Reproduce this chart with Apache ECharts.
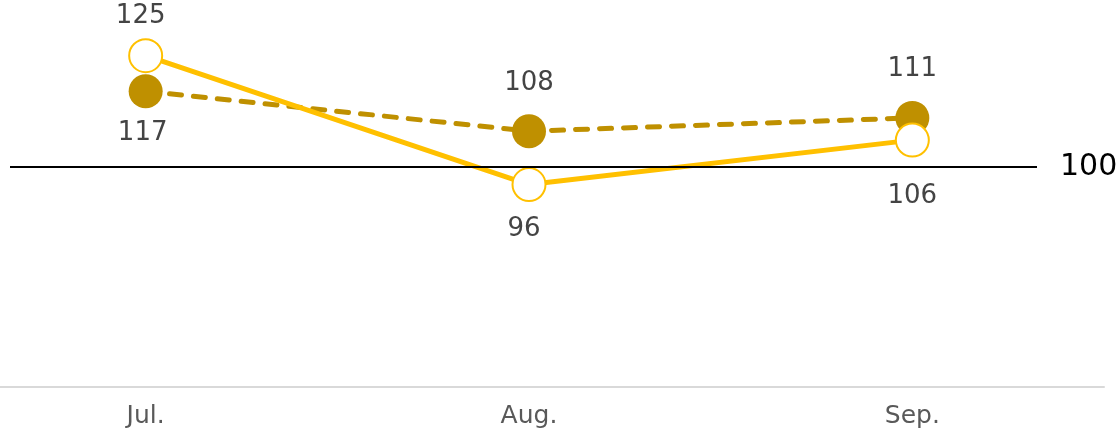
<!DOCTYPE html>
<html>
<head>
<meta charset="utf-8">
<script src="https://cdn.jsdelivr.net/npm/echarts@6/dist/echarts.min.js"></script>
<style>
html,body{margin:0;padding:0;background:#fff;}
#chart{width:1120px;height:435px;}
</style>
</head>
<body>
<div id="chart"></div>
<script>
// ---- data ----
const categories = ['Jul.', 'Aug.', 'Sep.'];
const solidValues = [125, 96, 106];
const dashedValues = [117, 108, 111];
const referenceValue = 100;

// ---- label placement (style, not data) ----
const solidLabelPos = ['top', 'bottom', 'bottom'];
const solidLabelDist = [9, 14, 26];
const solidLabelShift = [-5, -5, 0];
const dashedLabelPos = ['bottom', 'top', 'top'];
const dashedLabelDist = [12, 18, 19];
const dashedLabelShift = [-3, 0, 0];

const FONT = 'DejaVu Sans, Verdana, sans-serif';
const GOLD = '#FFC000';
const DARK_GOLD = '#BF9000';

function buildItems(values, pos, dist, shift) {
  return values.map((v, i) => ({
    value: v,
    label: { position: pos[i], distance: dist[i], offset: [shift[i], 0] }
  }));
}

const chart = echarts.init(document.getElementById('chart'), null, { renderer: 'canvas' });
chart.setOption({
  animation: false,
  grid: { left: -46, right: 16, top: -11, bottom: 46, containLabel: false, outerBoundsMode: 'none' },
  xAxis: {
    type: 'category',
    data: categories,
    boundaryGap: true,
    offset: -2,
    axisTick: { show: false },
    axisLine: { show: true, lineStyle: { color: '#d9d9d9', width: 2 } },
    axisLabel: { fontSize: 25, color: '#595959', fontFamily: FONT, margin: 17 },
    splitLine: { show: false }
  },
  yAxis: {
    type: 'value',
    min: 50,
    max: 140,
    show: false,
    splitLine: { show: false }
  },
  series: [
    {
      name: 'dashed',
      type: 'line',
      data: buildItems(dashedValues, dashedLabelPos, dashedLabelDist, dashedLabelShift),
      symbol: 'circle',
      symbolSize: 34,
      lineStyle: { color: DARK_GOLD, width: 5, type: [12, 12], cap: 'round' },
      itemStyle: { color: DARK_GOLD, borderWidth: 0 },
      label: { show: true, fontSize: 26, color: '#444444', fontFamily: FONT },
      z: 2
    },
    {
      name: 'solid',
      type: 'line',
      data: buildItems(solidValues, solidLabelPos, solidLabelDist, solidLabelShift),
      symbol: 'circle',
      symbolSize: 33,
      lineStyle: { color: GOLD, width: 5, type: 'solid' },
      itemStyle: { color: '#ffffff', borderColor: GOLD, borderWidth: 2 },
      label: { show: true, fontSize: 26, color: '#444444', fontFamily: FONT },
      z: 3,
      markLine: {
        silent: true,
        symbol: ['none', 'none'],
        animation: false,
        lineStyle: { color: '#000000', width: 2, type: 'solid' },
        label: {
          show: true,
          position: 'end',
          distance: 23,
          formatter: String(referenceValue),
          fontSize: 30,
          color: '#000000',
          fontFamily: FONT
        },
        emphasis: { disabled: true },
        data: [[{ yAxis: referenceValue, x: 10 }, { yAxis: referenceValue, x: 1037 }]]
      }
    }
  ]
});
</script>
</body>
</html>
